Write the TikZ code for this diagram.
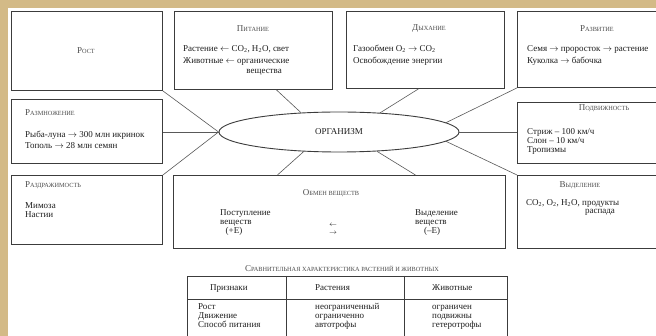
\documentclass[tikz,border=0pt]{standalone}
\usepackage{fontspec}
\setmainfont{Liberation Serif}
\usetikzlibrary{shapes.geometric}
\definecolor{tanbg}{HTML}{D3BA87}
\definecolor{ln}{HTML}{3C3C3C}
\definecolor{tx}{HTML}{1E1E1E}
\newcommand\ssc[2]{#1{\fontsize{6.3}{7}\selectfont #2}}
\begin{document}
\begin{tikzpicture}[x=1pt,y=-1pt,
  box/.style={draw=ln, line width=0.9pt, fill=white, inner sep=0, anchor=north west},
  conn/.style={draw=ln!85, line width=0.6pt},
  body/.style={font=\fontsize{9}{10}\selectfont, text=tx, inner sep=0, anchor=mid west},
  ttl/.style={font=\fontsize{9}{10}\selectfont, text=black!70, inner sep=0}]
\useasboundingbox (0,0) rectangle (656,336);
\fill[tanbg] (0,0) rectangle (656,336);
\fill[white] (8,8) rectangle (656,336);
\begin{scope}
\clip (8,8) rectangle (656,336);
% boxes
\node[box, minimum width=151pt, minimum height=79pt] (rost) at (11,11) {};
\node[box, minimum width=158pt, minimum height=78pt] (pit) at (174,11) {};
\node[box, minimum width=158pt, minimum height=77pt] (dyh) at (346,11) {};
\node[box, minimum width=163pt, minimum height=76pt] (razv) at (517,11) {};
\node[box, minimum width=151pt, minimum height=64pt] (razm) at (11,99) {};
\node[box, minimum width=163pt, minimum height=61pt] (podv) at (517,102) {};
\node[box, minimum width=151pt, minimum height=69pt] (razd) at (11,175) {};
\node[box, minimum width=332pt, minimum height=73pt] (obm) at (173,175) {};
\node[box, minimum width=163pt, minimum height=73pt] (vyd) at (517,175) {};
\node[ellipse, draw=ln, line width=0.9pt, fill=white, minimum width=240pt, minimum height=40pt,
      font=\fontsize{9}{10}\selectfont, text=tx] (org) at (339,132) {ОРГАНИЗМ};
% connectors
\draw[conn] (rost.south east) -- (org.west);
\draw[conn] (org.west) -- (org.west -| razm.east);
\draw[conn] (razd.north east) -- (org.west);
\draw[conn] ([xshift=23pt]pit.south) -- (org.153);
\draw[conn] ([xshift=-7pt]dyh.south) -- (org.25);
\draw[conn] (razv.south west) -- (org.5);
\draw[conn] (org.east) -- (org.east -| podv.west);
\draw[conn] (org.-5) -- (vyd.north west);
\draw[conn] (org.209) -- ([xshift=-62pt]obm.north);
\draw[conn] (org.333) -- ([xshift=76pt]obm.north);
% texts
\node[ttl] (rostT) at (86,51) {\ssc{Р}{ОСТ}};
\node[ttl] (pitT) at (253,29) {\ssc{П}{ИТАНИЕ}};
\node[body] (pit1) at (183,49) {Растение $\leftarrow$ CO\textsubscript{2}, H\textsubscript{2}O, свет};
\node[body] (pit2) at (183,61) {Животные $\leftarrow$ органические};
\node[body, anchor=mid east] (pit3) at (282,71) {вещества};
\node[ttl] (dyhT) at (429,29) {\ssc{Д}{ЫХАНИЕ}};
\node[body] (dyh1) at (353,49) {Газообмен O\textsubscript{2} $\rightarrow$ CO\textsubscript{2}};
\node[body] (dyh2) at (353,61) {Освобождение энергии};
\node[ttl] (razvT) at (597,29) {\ssc{Р}{АЗВИТИЕ}};
\node[body] (razv1) at (527,49) {Семя $\rightarrow$ проросток $\rightarrow$ растение};
\node[body] (razv2) at (527,61) {Куколка $\rightarrow$ бабочка};
\node[ttl, anchor=mid west] (razmT) at (25,113) {\ssc{Р}{АЗМНОЖЕНИЕ}};
\node[body] (razm1) at (25,135) {Рыба-луна $\rightarrow$ 300 млн икринок};
\node[body] (razm2) at (25,146) {Тополь $\rightarrow$ 28 млн семян};
\node[ttl] (podvT) at (604,108) {\ssc{П}{ОДВИЖНОСТЬ}};
\node[body] (podv1) at (527,132) {Стриж – 100 км/ч};
\node[body] (podv2) at (527,141) {Слон – 10 км/ч};
\node[body] (podv3) at (527,150) {Тропизмы};
\node[ttl, anchor=mid west] (razdT) at (25,185) {\ssc{Р}{АЗДРАЖИМОСТЬ}};
\node[body] (razd1) at (25,206) {Мимоза};
\node[body] (razd2) at (25,215) {Настии};
\node[ttl] (vydT) at (580,185) {\ssc{В}{ЫДЕЛЕНИЕ}};
\node[body] (vyd1) at (526,203) {CO\textsubscript{2}, O\textsubscript{2}, H\textsubscript{2}O, продукты};
\node[body, anchor=center] (vyd2) at (600,212) {распада};
\node[ttl] (obmT) at (331,193) {\ssc{О}{БМЕН ВЕЩЕСТВ}};
\node[body] (obm1) at (220,213) {Поступление};
\node[body] (obm2) at (220,222) {веществ};
\node[body, anchor=center] (obm3) at (234,231) {(+E)};
\node[body, anchor=center, font=\fontsize{7}{8}\selectfont] (obm4) at (333,225) {$\leftarrow$};
\node[body, anchor=center, font=\fontsize{7}{8}\selectfont] (obm5) at (333,233) {$\rightarrow$};
\node[body] (obm6) at (415,213) {Выделение};
\node[body] (obm7) at (415,222) {веществ};
\node[body, anchor=center] (obm8) at (432,231) {(–E)};
% table
\node[ttl] (tabT) at (342,269) {\ssc{С}{РАВНИТЕЛЬНАЯ ХАРАКТЕРИСТИКА РАСТЕНИЙ И ЖИВОТНЫХ}};
\draw[ln, line width=0.8pt] (187,345) -- (187,276) -- (507,276) -- (507,345);
\draw[ln, line width=0.8pt] (286,276) -- (286,345);
\draw[ln, line width=0.8pt] (404,276) -- (404,345);
\draw[ln, line width=0.8pt] (187,299) -- (507,299);
\node[body] (h1) at (210,288) {Признаки};
\node[body] (h2) at (315,288) {Растения};
\node[body] (h3) at (432,288) {Животные};
\node[body] (a1) at (198,307) {Рост};
\node[body] (a2) at (198,316) {Движение};
\node[body] (a3) at (198,325) {Способ питания};
\node[body] (b1) at (315,307) {неограниченный};
\node[body] (b2) at (315,316) {ограниченно};
\node[body] (b3) at (315,325) {автотрофы};
\node[body] (c1) at (432,307) {ограничен};
\node[body] (c2) at (432,316) {подвижны};
\node[body] (c3) at (432,325) {гетеротрофы};
\end{scope}
\end{tikzpicture}
\end{document}
